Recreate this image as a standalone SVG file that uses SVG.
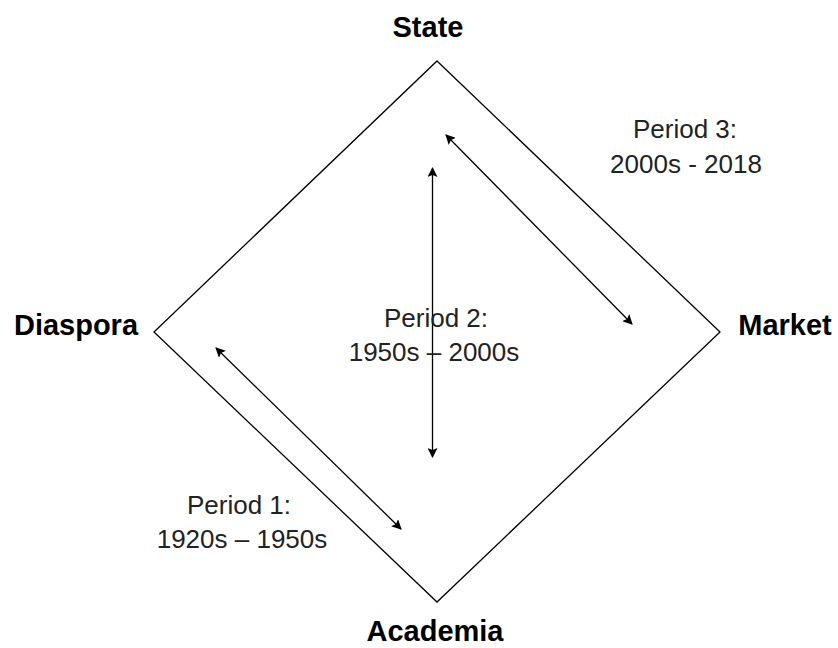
<svg xmlns="http://www.w3.org/2000/svg" width="838" height="648" viewBox="0 0 838 648">
<style>
.t{font-family:"Liberation Sans",Arial,sans-serif;fill:#000;text-anchor:middle}
.b{font-size:29px;font-weight:bold}
.p{font-size:26px;fill:#222}
.edge{stroke:#000;stroke-width:1.3;fill:none}
.arr{stroke:#000;stroke-width:1.3;fill:none;marker-start:url(#ah);marker-end:url(#ah)}
</style>
<defs>
<marker id="ah" viewBox="0 0 10 10" refX="9" refY="5" markerWidth="10" markerHeight="10" markerUnits="userSpaceOnUse" orient="auto-start-reverse">
<path d="M0,0 L10,5 L0,10 L2,5 z" fill="#000"/>
</marker>
</defs>
<rect width="838" height="648" fill="#fff"/>
<g id="diamond">
<polygon class="edge" points="437,61 720,332 437,602 154,332"/>
</g>
<g id="state"><text class="t b" x="428" y="37">State</text></g>
<g id="diaspora"><text class="t b" x="76" y="335">Diaspora</text></g>
<g id="market"><text class="t b" x="785" y="335">Market</text></g>
<g id="academia"><text class="t b" x="435" y="641">Academia</text></g>
<g id="connectors">
<line class="arr" x1="446" y1="135" x2="632" y2="324"/>
<line class="arr" x1="432.5" y1="168" x2="432.5" y2="457"/>
<line class="arr" x1="216" y1="348" x2="401" y2="529"/>
</g>
<g id="labels">
<text class="t p" x="685" y="138">Period 3:</text>
<text class="t p" x="686" y="173">2000s - 2018</text>
<text class="t p" x="436" y="327">Period 2:</text>
<text class="t p" x="434" y="361">1950s – 2000s</text>
<text class="t p" x="239" y="514">Period 1:</text>
<text class="t p" x="242" y="548">1920s – 1950s</text>
</g>
</svg>
